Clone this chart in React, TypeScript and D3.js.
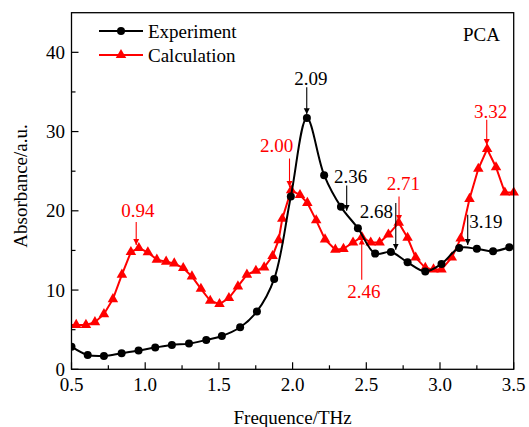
import React from 'react';
import * as d3 from 'd3';

const expX = [0.50, 0.61, 0.72, 0.84, 0.955, 1.068, 1.181, 1.297, 1.414, 1.52, 1.644, 1.758, 1.875, 1.988, 2.097, 2.214, 2.328, 2.443, 2.56, 2.667, 2.78, 2.90, 3.01, 3.13, 3.25, 3.36, 3.47];
const expY = [2.86, 1.8, 1.68, 2.02, 2.36, 2.74, 3.08, 3.24, 3.71, 4.2, 5.3, 7.3, 11.4, 21.8, 31.7, 24.5, 20.5, 17.8, 14.6, 14.8, 13.5, 12.35, 13.3, 15.3, 15.2, 14.9, 15.4];

const calX = [0.47, 0.532, 0.598, 0.659, 0.72, 0.781, 0.842, 0.903, 0.957, 1.018, 1.079, 1.142, 1.197, 1.258, 1.317, 1.378, 1.441, 1.504, 1.568, 1.629, 1.69, 1.751, 1.807, 1.864, 1.905, 1.93, 1.99, 2.05, 2.10, 2.16, 2.22, 2.29, 2.345, 2.41, 2.47, 2.53, 2.59, 2.65, 2.72, 2.78, 2.835, 2.90, 2.956, 3.01, 3.08, 3.14, 3.20, 3.26, 3.32, 3.38, 3.44, 3.50];
const calY = [5.6, 5.6, 5.6, 5.95, 6.96, 8.86, 11.94, 14.8, 15.3, 14.76, 13.84, 13.58, 13.37, 12.78, 11.72, 10.16, 8.65, 8.23, 8.99, 10.46, 11.94, 12.44, 12.86, 14.3, 16.3, 19.0, 22.6, 22.0, 21.0, 18.8, 16.4, 15.1, 15.2, 16.0, 16.7, 16.0, 16.0, 17.0, 18.5, 16.6, 14.1, 12.8, 12.6, 12.6, 14.1, 16.5, 21.5, 25.3, 27.8, 25.5, 22.3, 22.3];

const xTicks = [0.5, 1.0, 1.5, 2.0, 2.5, 3.0, 3.5];
const xMinor = [0.75, 1.25, 1.75, 2.25, 2.75, 3.25];
const yTicks = [0, 10, 20, 30, 40];
const yMinor = [5, 15, 25, 35];

const seriesNames = ['Experiment', 'Calculation'];

// annotations in data units: label, color, arrow x, arrow tail y, arrow tip y, text x, text baseline y, anchor
const annLabels = ['0.94', '2.00', '2.09', '2.36', '2.68', '2.71', '2.46', '3.19', '3.32'];
const annColors = ['red', 'red', 'black', 'black', 'black', 'red', 'red', 'black', 'red'];
const annAx = [0.939, 1.979, 2.096, 2.367, 2.70, 2.722, 2.469, 3.188, 3.317];
const annTail = [18.6, 26.6, 35.6, 23.2, 21.0, 21.8, 11.3, 19.5, 31.5];
const annTip = [15.7, 23.0, 32.2, 20.0, 15.1, 18.7, 16.5, 15.7, 28.3];
const annTx = [0.951, 1.892, 2.124, 2.393, 2.568, 2.751, 2.483, 3.198, 3.343];
const annTy = [19.2, 27.4, 35.9, 23.5, 19.05, 22.6, 9.0, 17.8, 31.7];
const annAnchor = ['middle', 'middle', 'middle', 'middle', 'middle', 'middle', 'middle', 'start', 'middle'];

const W = 529, H = 427;
const L = 71.5, R = 513.7, T = 12.7, B = 369.3;
const FONT = '"Liberation Serif", "Times New Roman", serif';
const RED = '#ff0000';

export default function App() {
  const x = d3.scaleLinear().domain([0.5, 3.5]).range([L, R]);
  const y = d3.scaleLinear().domain([0, 45]).range([B, T]);

  const expPts = expX.map((v, i) => [x(v), y(expY[i])] as [number, number]);
  const calPts = calX.map((v, i) => [x(v), y(calY[i])] as [number, number]);

  const expLine = d3.line().curve(d3.curveCatmullRom.alpha(0.5))(expPts) || '';
  const calLine = d3.line()(calPts) || '';
  const tri = d3.symbol(d3.symbolTriangle, 48)() || '';

  const col = (c: string) => (c === 'red' ? RED : '#000');

  return (
    <svg width={W} height={H} style={{ position: 'absolute', left: 0, top: 0, background: '#fff' }} fontFamily={FONT}>
      <defs>
        <clipPath id="plot">
          <rect x={L} y={T} width={R - L + 6} height={B - T} />
        </clipPath>
        <marker id="ahb" viewBox="0 0 10 10" refX="10" refY="5" markerWidth="6" markerHeight="7" markerUnits="userSpaceOnUse" orient="auto">
          <path d="M0,0 L10,5 L0,10 z" fill="#000" />
        </marker>
        <marker id="ahr" viewBox="0 0 10 10" refX="10" refY="5" markerWidth="6" markerHeight="7" markerUnits="userSpaceOnUse" orient="auto">
          <path d="M0,0 L10,5 L0,10 z" fill={RED} />
        </marker>
      </defs>
      <rect x={0} y={0} width={W} height={H} fill="#fff" />

      {/* data */}
      <g clipPath="url(#plot)">
        <path d={calLine} fill="none" stroke={RED} strokeWidth={2} />
        {calPts.map((p, i) => (
          <path key={'c' + i} d={tri} transform={`translate(${p[0]},${p[1]})`} fill={RED} />
        ))}
        <path d={expLine} fill="none" stroke="#000" strokeWidth={2} />
        {expPts.map((p, i) => (
          <circle key={'e' + i} cx={p[0]} cy={p[1]} r={4} fill="#000" />
        ))}
      </g>

      {/* frame */}
      <rect x={L} y={T} width={R - L} height={B - T} fill="none" stroke="#000" strokeWidth={1.3} />

      {/* x ticks */}
      {xTicks.map((t) => (
        <g key={'xt' + t}>
          <line x1={x(t)} x2={x(t)} y1={B} y2={B - 7} stroke="#000" strokeWidth={1.2} />
          <text x={x(t)} y={391} fontSize={19} textAnchor="middle">{d3.format('.1f')(t)}</text>
        </g>
      ))}
      {xMinor.map((t) => (
        <line key={'xm' + t} x1={x(t)} x2={x(t)} y1={B} y2={B - 4} stroke="#000" strokeWidth={1.2} />
      ))}
      {/* y ticks */}
      {yTicks.map((t) => (
        <g key={'yt' + t}>
          <line x1={L} x2={L + 7} y1={y(t)} y2={y(t)} stroke="#000" strokeWidth={1.2} />
          <text x={65} y={y(t) + 6.5} fontSize={19} textAnchor="end">{t}</text>
        </g>
      ))}
      {yMinor.map((t) => (
        <line key={'ym' + t} x1={L} x2={L + 4} y1={y(t)} y2={y(t)} stroke="#000" strokeWidth={1.2} />
      ))}

      {/* axis titles */}
      <text x={(L + R) / 2} y={424} fontSize={19} textAnchor="middle">Frequence/THz</text>
      <text transform={`translate(27,${(B + T) / 2 - 5}) rotate(-90)`} fontSize={19} textAnchor="middle">Absorbance/a.u.</text>

      {/* legend */}
      <line x1={99} x2={143} y1={31} y2={31} stroke="#000" strokeWidth={2} />
      <circle cx={121} cy={31} r={4} fill="#000" />
      <text x={148} y={37.5} fontSize={19}>{seriesNames[0]}</text>
      <line x1={99} x2={143} y1={55} y2={55} stroke={RED} strokeWidth={2} />
      <path d={tri} transform="translate(121,55)" fill={RED} />
      <text x={148} y={62} fontSize={19}>{seriesNames[1]}</text>

      <text x={500} y={40.5} fontSize={19} textAnchor="end">PCA</text>

      {/* annotations */}
      {annLabels.map((lab, i) => (
        <g key={'a' + i}>
          <line x1={x(annAx[i])} x2={x(annAx[i])} y1={y(annTail[i])} y2={y(annTip[i])}
            stroke={col(annColors[i])} strokeWidth={1.1}
            markerEnd={annColors[i] === 'red' ? 'url(#ahr)' : 'url(#ahb)'} />
          <text x={x(annTx[i])} y={y(annTy[i])} fontSize={19} fill={col(annColors[i])}
            textAnchor={annAnchor[i] as any}>{lab}</text>
        </g>
      ))}
    </svg>
  );
}
